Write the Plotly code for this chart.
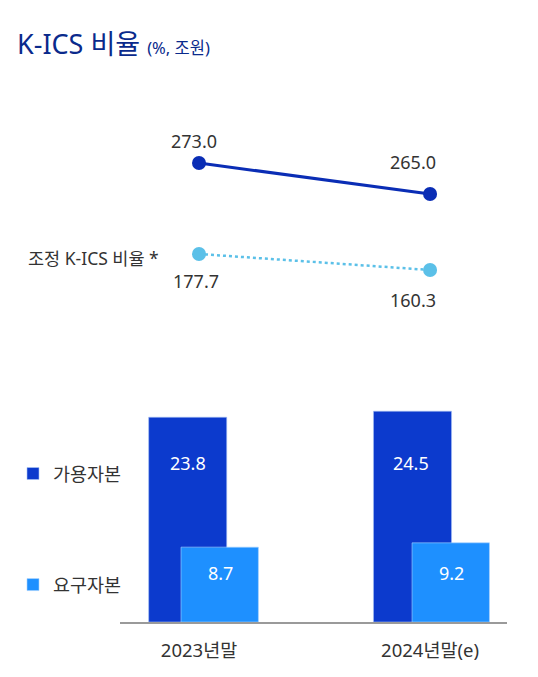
import plotly.graph_objects as go

# data
periods = ["2023년말", "2024년말(e)"]
kics_ratio = [273.0, 265.0]
adj_kics_ratio = [177.7, 160.3]
available_capital = [23.8, 24.5]
required_capital = [8.7, 9.2]

NAVY = "#0a2a8c"
INK = "#333333"
LINE_DARK = "#0a2db5"
LINE_LIGHT = "#5bc0e8"
BAR_DARK = "#0c3acd"
BAR_LIGHT = "#1e90ff"
FONT = '"Noto Sans", "Noto Sans CJK KR", sans-serif'

# page has an 8px body margin, so the figure itself is a bit smaller
PAD = 8
W, H = 538 - PAD, 677 - PAD


def px(p):
    # page pixel column -> paper x
    return (p - PAD) / W


def py(p):
    # page pixel row -> paper y
    return 1 - (p - PAD) / H


fig = go.Figure()

# capital bars (overlapping, offset within each period)
fig.add_trace(go.Bar(
    x=periods, y=available_capital, name="가용자본",
    offset=[-0.218, -0.245], width=0.338,
    marker=dict(color=BAR_DARK, line=dict(color="#a9c4f5", width=0.6)),
    hoverinfo="y", legendgroup="a",
))
fig.add_trace(go.Bar(
    x=periods, y=required_capital, name="요구자본",
    offset=-0.078, width=0.335,
    marker=dict(color=BAR_LIGHT, line=dict(color="#a9d3ff", width=0.6)),
    hoverinfo="y", legendgroup="b",
))

# ratio lines
fig.add_trace(go.Scatter(
    x=periods, y=kics_ratio, yaxis="y2", mode="lines+markers",
    line=dict(color=LINE_DARK, width=3),
    marker=dict(color=LINE_DARK, size=14),
    showlegend=False, hoverinfo="y",
))
fig.add_trace(go.Scatter(
    x=periods, y=adj_kics_ratio, yaxis="y3", mode="lines+markers",
    line=dict(color=LINE_LIGHT, width=2.5, dash="dot"),
    marker=dict(color=LINE_LIGHT, size=14),
    showlegend=False, hoverinfo="y",
))

ann = []
# line value labels
for i, v in enumerate(kics_ratio):
    ann.append(dict(x=periods[i], y=v, xref="x", yref="y2", text=f"{v:.1f}",
                    showarrow=False, xshift=[-5, -17][i], yshift=[22, 32][i],
                    font=dict(size=18, color=INK)))
for i, v in enumerate(adj_kics_ratio):
    ann.append(dict(x=periods[i], y=v, xref="x", yref="y3", text=f"{v:.1f}",
                    showarrow=False, xshift=[-3, -17][i], yshift=[-27, -30][i],
                    font=dict(size=18, color=INK)))
# bar value labels, aligned with legend rows
for i, v in enumerate(available_capital):
    ann.append(dict(x=periods[i], y=py(477), xref="x", yref="paper", text=f"{v:.1f}",
                    showarrow=False, xshift=[-11, -19][i],
                    font=dict(size=18, color="white")))
for i, v in enumerate(required_capital):
    ann.append(dict(x=periods[i], y=py(587), xref="x", yref="paper", text=f"{v:.1f}",
                    showarrow=False, xshift=[21, 21][i],
                    font=dict(size=18, color="white")))
ann.append(dict(x=px(26), y=py(258), xref="paper", yref="paper", xanchor="left",
                text="조정 K-ICS 비율 *", showarrow=False,
                font=dict(size=17.5, color=INK)))

fig.update_layout(
    width=W, height=H,
    margin=dict(l=0, r=0, t=0, b=0),
    paper_bgcolor="white", plot_bgcolor="white",
    font=dict(family=FONT, color=INK),
    title=dict(
        text="K-ICS 비율 <span style='font-size:16.5px'>(%, 조원)</span>",
        x=px(17), xanchor="left", y=py(45), yanchor="middle",
        font=dict(size=27, color=NAVY),
    ),
    barmode="overlay",
    showlegend=True,
    legend=dict(
        x=px(13), y=py(455), xanchor="left", yanchor="top",
        font=dict(size=18.5, color=INK), traceorder="grouped",
        tracegroupgap=84, bgcolor="rgba(0,0,0,0)",
    ),
    xaxis=dict(
        type="category", domain=[px(120), px(507)], range=[-0.342, 1.333],
        showgrid=False, zeroline=False, showline=True, linecolor="#9a9a9a",
        linewidth=1.5, ticks="", tickfont=dict(size=18.5, color=INK),
        ticklabelstandoff=11, anchor="y", fixedrange=True,
    ),
    yaxis=dict(
        domain=[py(622), py(400)], range=[0, 25.8], visible=False, fixedrange=True,
    ),
    yaxis2=dict(
        domain=[py(220), py(120)], range=[258.29, 284.1], visible=False,
        anchor="x", fixedrange=True,
    ),
    yaxis3=dict(
        domain=[py(310), py(230)], range=[116.8, 203.8], visible=False,
        anchor="x", fixedrange=True,
    ),
    annotations=ann,
)

fig.write_html("out.html")
